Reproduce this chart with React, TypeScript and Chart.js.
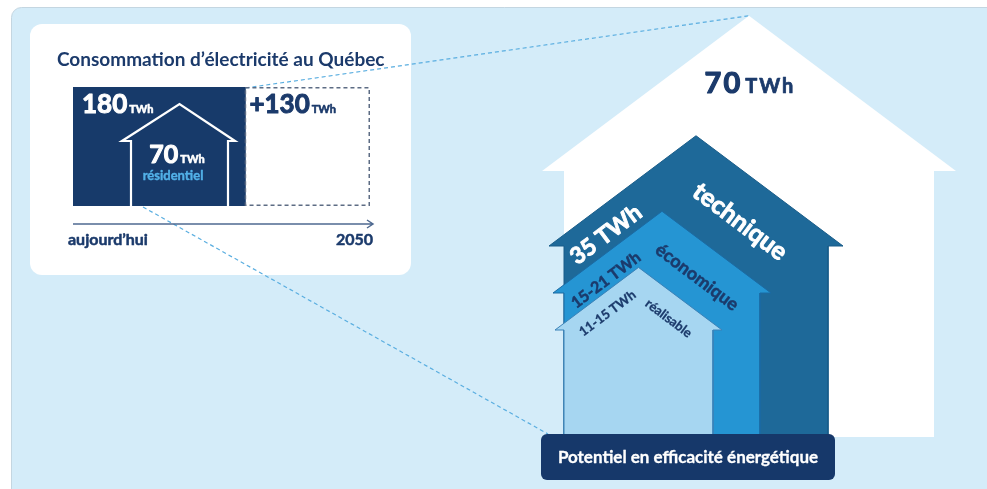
import React, { useEffect, useRef } from 'react';
import { Chart, registerables } from 'chart.js';

Chart.register(...registerables);

// ---------------- data ----------------
const consoTitle = 'Consommation d’électricité au Québec';
const consoCategories = ['aujourd’hui', '2050'];
const consoValues = [180, 130];
const consoValueLabels = ['180', '+130'];
const residentialValue = 70;
const residentialLabel = 'résidentiel';
const unitLabel = 'TWh';

const potentialTitle = 'Potentiel en efficacité énergétique';
const potentialNames = ['réalisable', 'économique', 'technique', 'total'];
const potentialValueLabels = ['11-15', '15-21', '35', '70'];
const potentialLow = [11, 15, 35, 70];
const potentialHigh = [15, 21, 35, 70];

// ---------------- layout / style ----------------
const W = 987;
const H = 489;
const CARD = { x: 30, y: 24, w: 381, h: 251, r: 12 };
const NAVY = '#1b3a6b';
const HOUSE_LEFT = 564;
const HOUSE_BASE = 437;
const ROOF_SLOPE = 0.75;
const houseRight = [713, 760, 828, 934];
const houseEave = [330, 293, 246, 171];
const houseOverhang = [9, 11, 15, 22];
const houseFill = ['#a6d6f1', '#2595d3', '#1e6999', '#ffffff'];
const houseStroke = ['#3b82b8', '#1b6aa3', '#185c89', 'rgba(0,0,0,0)'];
const houseStrokeWidth = [1, 1, 1, 0];
const valueOffset = [[-31, 46], [-56, 69], [-90, 99], [1, 77]];
const nameOffset = [[30, 51], [35, 66], [44, 86]];
const valueFont = ['700 13px Lato', '700 16px Lato', '700 23px Lato'];
const nameFont = ['700 13px Lato', '700 18px Lato', '700 25px Lato'];
const labelStroke = [0.3, 0.5, 0.9];
const labelColor = [NAVY, NAVY, '#ffffff'];

function roundRect(ctx: CanvasRenderingContext2D, x: number, y: number, w: number, h: number, r: number) {
  ctx.beginPath();
  ctx.moveTo(x + r, y);
  ctx.lineTo(x + w - r, y);
  ctx.arcTo(x + w, y, x + w, y + r, r);
  ctx.lineTo(x + w, y + h - r);
  ctx.arcTo(x + w, y + h, x + w - r, y + h, r);
  ctx.lineTo(x + r, y + h);
  ctx.arcTo(x, y + h, x, y + h - r, r);
  ctx.lineTo(x, y + r);
  ctx.arcTo(x, y, x + r, y, r);
  ctx.closePath();
}

function houseGeom(i: number) {
  const half = (houseRight[i] - HOUSE_LEFT) / 2;
  const mid = HOUSE_LEFT + half;
  const apexY = houseEave[i] - ROOF_SLOPE * (half + houseOverhang[i]);
  return { mid, apexY };
}

function housePoints(i: number) {
  const { mid, apexY } = houseGeom(i);
  const L = HOUSE_LEFT, R = houseRight[i], E = houseEave[i], O = houseOverhang[i];
  return [
    { x: L, y: HOUSE_BASE },
    { x: L, y: E },
    { x: L - O, y: E },
    { x: mid, y: apexY },
    { x: R + O, y: E },
    { x: R, y: E },
    { x: R, y: HOUSE_BASE },
    { x: L, y: HOUSE_BASE },
  ];
}

function heavyText(ctx: CanvasRenderingContext2D, text: string, x: number, y: number, stroke: number) {
  if (stroke > 0) {
    ctx.lineWidth = stroke;
    ctx.lineJoin = 'round';
    ctx.strokeStyle = ctx.fillStyle as string;
    ctx.strokeText(text, x, y);
  }
  ctx.fillText(text, x, y);
}

function rotText(ctx: CanvasRenderingContext2D, text: string, x: number, y: number, angle: number, font: string, color: string, stroke: number) {
  ctx.save();
  ctx.translate(x, y);
  ctx.rotate(angle);
  ctx.font = font;
  ctx.fillStyle = color;
  ctx.textAlign = 'center';
  ctx.textBaseline = 'middle';
  heavyText(ctx, text, 0, 0, stroke);
  ctx.restore();
}

function valueWithUnit(ctx: CanvasRenderingContext2D, num: string, x: number, y: number, numFont: string, unitFont: string, color: string, align: 'left' | 'center', gap: number, stroke: number, numSpacing = 0, unitSpacing = 0) {
  ctx.save();
  ctx.fillStyle = color;
  ctx.textAlign = 'left';
  ctx.textBaseline = 'alphabetic';
  ctx.font = numFont;
  (ctx as any).letterSpacing = numSpacing + 'px';
  const w1 = ctx.measureText(num).width;
  ctx.font = unitFont;
  (ctx as any).letterSpacing = unitSpacing + 'px';
  const w2 = ctx.measureText(unitLabel).width;
  const total = w1 + gap + w2;
  const sx = align === 'center' ? x - total / 2 : x;
  ctx.font = numFont;
  (ctx as any).letterSpacing = numSpacing + 'px';
  heavyText(ctx, num, sx, y, stroke);
  ctx.font = unitFont;
  (ctx as any).letterSpacing = unitSpacing + 'px';
  heavyText(ctx, unitLabel, sx + w1 + gap, y, stroke * 0.6);
  ctx.restore();
}

export default function App() {
  const bigRef = useRef<HTMLCanvasElement>(null);
  const cardRef = useRef<HTMLCanvasElement>(null);

  useEffect(() => {
    const shared: any = {};

    const cardDecor = {
      id: 'cardDecor',
      afterDatasetsDraw(chart: any) {
        const ctx: CanvasRenderingContext2D = chart.ctx;
        const b0 = chart.getDatasetMeta(0).data[0];
        const b1 = chart.getDatasetMeta(1).data[0];
        const top = b0.y - b0.height / 2;
        const bot = b0.y + b0.height / 2;
        const l0 = b0.base, l1 = b1.base, r1 = b1.x;

        // dashed box for future growth
        ctx.save();
        ctx.setLineDash([4, 3]);
        ctx.strokeStyle = '#5d6c84';
        ctx.lineWidth = 1.5;
        ctx.strokeRect(l1, top + 0.75, r1 - l1 - 0.75, bot - top - 1.5);
        ctx.restore();

        // residential house outline
        const wl = l0 + 58, wr = l0 + 155;
        const el = l0 + 49, er = l0 + 162;
        const ey = top + 54;
        const ax = (wl + wr) / 2, ay = top + 17;
        ctx.save();
        ctx.strokeStyle = '#ffffff';
        ctx.lineWidth = 2.2;
        ctx.lineJoin = 'miter';
        ctx.beginPath();
        ctx.moveTo(wl, bot);
        ctx.lineTo(wl, ey);
        ctx.lineTo(el, ey);
        ctx.lineTo(ax, ay);
        ctx.lineTo(er, ey);
        ctx.lineTo(wr, ey);
        ctx.lineTo(wr, bot);
        ctx.stroke();
        ctx.restore();

        // values
        valueWithUnit(ctx, consoValueLabels[0], l0 + 9, top + 26, '700 26px Lato', '700 11px Lato', '#ffffff', 'left', 2, 1);
        valueWithUnit(ctx, consoValueLabels[1], l1 + 4, top + 26, '700 26px Lato', '700 11px Lato', NAVY, 'left', 2, 1);
        valueWithUnit(ctx, String(residentialValue), l0 + 104, top + 76, '700 25px Lato', '700 11px Lato', '#ffffff', 'center', 2, 1);
        ctx.save();
        ctx.font = '700 13px Lato';
        ctx.fillStyle = '#52b1e8';
        ctx.textAlign = 'center';
        heavyText(ctx, residentialLabel, l0 + 100, top + 93, 0.4);
        ctx.restore();

        // title
        ctx.save();
        ctx.font = '700 19px Lato';
        ctx.fillStyle = NAVY;
        ctx.textAlign = 'left';
        ctx.fillText(consoTitle, l0 - 16, top - 21);
        ctx.restore();

        // time arrow
        const ay2 = bot + 18;
        const xEnd = r1 + 3;
        ctx.save();
        ctx.strokeStyle = '#4f6a91';
        ctx.lineWidth = 1.5;
        ctx.beginPath();
        ctx.moveTo(l0, ay2);
        ctx.lineTo(xEnd, ay2);
        ctx.moveTo(xEnd - 6, ay2 - 4);
        ctx.lineTo(xEnd, ay2);
        ctx.lineTo(xEnd - 6, ay2 + 4);
        ctx.stroke();
        ctx.font = '700 16px Lato';
        ctx.fillStyle = NAVY;
        ctx.textAlign = 'left';
        heavyText(ctx, consoCategories[0], l0 - 5, bot + 39, 0.5);
        ctx.textAlign = 'right';
        heavyText(ctx, consoCategories[1], xEnd, bot + 39, 0.5);
        ctx.restore();
      },
    };

    const card = new Chart(cardRef.current as HTMLCanvasElement, {
      type: 'bar',
      data: {
        labels: ['conso'],
        datasets: consoCategories.map((c, i) => ({
          label: c,
          data: [consoValues[i]],
          backgroundColor: i === 0 ? '#173a6a' : 'rgba(255,255,255,0)',
          borderWidth: 0,
          barPercentage: 1,
          categoryPercentage: 1,
        })),
      },
      options: {
        indexAxis: 'y',
        responsive: false,
        animation: false,
        events: [],
        layout: { padding: { left: 43, right: 41, top: 63, bottom: 69 } },
        scales: {
          x: { stacked: true, min: 0, max: consoValues[0] + consoValues[1], display: false },
          y: { stacked: true, display: false },
        },
        plugins: { legend: { display: false }, tooltip: { enabled: false } },
      },
      plugins: [cardDecor],
    } as any);

    const m0: any = card.getDatasetMeta(0).data[0];
    const m1: any = card.getDatasetMeta(1).data[0];
    shared.upperStart = { x: CARD.x + m1.base, y: CARD.y + m1.y - m1.height / 2 + 1 };
    shared.lowerStart = { x: CARD.x + m0.base + 70, y: CARD.y + m0.y + m0.height / 2 + 1 };

    const scene = {
      id: 'scene',
      beforeDraw(chart: any) {
        const ctx: CanvasRenderingContext2D = chart.ctx;
        ctx.save();
        ctx.fillStyle = '#ffffff';
        ctx.fillRect(0, 0, W, H);
        roundRect(ctx, 11.5, 7.5, W + 30, H + 30, 10);
        ctx.fillStyle = '#d4ecf9';
        ctx.fill();
        ctx.strokeStyle = '#c4d6e1';
        ctx.lineWidth = 1;
        ctx.stroke();
        roundRect(ctx, CARD.x, CARD.y, CARD.w, CARD.h, CARD.r);
        ctx.fillStyle = '#ffffff';
        ctx.fill();
        ctx.restore();
      },
      beforeDatasetsDraw(chart: any) {
        const ctx: CanvasRenderingContext2D = chart.ctx;
        const xs = chart.scales.x, ys = chart.scales.y;
        const g = houseGeom(3);
        const apex = { x: xs.getPixelForValue(g.mid), y: ys.getPixelForValue(g.apexY) };
        const boxCorner = { x: xs.getPixelForValue(HOUSE_LEFT) - 16, y: ys.getPixelForValue(HOUSE_BASE) - 3 };
        ctx.save();
        ctx.setLineDash([4, 3]);
        ctx.strokeStyle = '#5aaee0';
        ctx.lineWidth = 1.2;
        ctx.beginPath();
        ctx.moveTo(shared.upperStart.x, shared.upperStart.y);
        ctx.lineTo(apex.x, apex.y);
        ctx.moveTo(shared.lowerStart.x, shared.lowerStart.y);
        ctx.lineTo(boxCorner.x, boxCorner.y);
        ctx.stroke();
        ctx.restore();
      },
      beforeDatasetDraw(chart: any, args: any) {
        const ctx: CanvasRenderingContext2D = chart.ctx;
        const pts = args.meta.data;
        if (!pts.length) return;
        ctx.save();
        ctx.beginPath();
        pts.forEach((p: any, k: number) => (k ? ctx.lineTo(p.x, p.y) : ctx.moveTo(p.x, p.y)));
        ctx.closePath();
        ctx.fillStyle = houseFill[args.index];
        ctx.fill();
        ctx.restore();
      },
      afterDatasetsDraw(chart: any) {
        const ctx: CanvasRenderingContext2D = chart.ctx;
        const xs = chart.scales.x, ys = chart.scales.y;
        for (let i = 0; i < potentialNames.length; i++) {
          const g = houseGeom(i);
          const ax = xs.getPixelForValue(g.mid), ay = ys.getPixelForValue(g.apexY);
          const ex = xs.getPixelForValue(HOUSE_LEFT - houseOverhang[i]);
          const ey = ys.getPixelForValue(houseEave[i]);
          const ang = Math.atan2(ey - ay, ax - ex);
          if (i === 3) {
            valueWithUnit(ctx, potentialValueLabels[i], ax + valueOffset[i][0], ay + valueOffset[i][1], '700 29px Lato', '700 20px Lato', NAVY, 'center', 3, 1.2, 2, 2);
          } else {
            rotText(ctx, potentialValueLabels[i] + ' ' + unitLabel, ax + valueOffset[i][0], ay + valueOffset[i][1], -ang, valueFont[i], labelColor[i], labelStroke[i]);
            rotText(ctx, potentialNames[i], ax + nameOffset[i][0], ay + nameOffset[i][1], ang, nameFont[i], labelColor[i], labelStroke[i]);
          }
        }
        // title box
        const bx = xs.getPixelForValue(HOUSE_LEFT) - 23;
        const bx2 = xs.getPixelForValue(houseRight[2]) + 7;
        const by = ys.getPixelForValue(HOUSE_BASE) - 3;
        ctx.save();
        roundRect(ctx, bx, by, bx2 - bx, 46, 6);
        ctx.fillStyle = '#16386a';
        ctx.fill();
        ctx.font = '700 17px Lato';
        ctx.fillStyle = '#ffffff';
        ctx.textAlign = 'center';
        ctx.textBaseline = 'middle';
        heavyText(ctx, potentialTitle, (bx + bx2) / 2, by + 24, 0.3);
        ctx.restore();
      },
    };

    const big = new Chart(bigRef.current as HTMLCanvasElement, {
      type: 'scatter',
      data: {
        datasets: potentialNames.map((name, i) => ({
          label: name,
          data: housePoints(i),
          showLine: true,
          fill: false,
          tension: 0,
          pointRadius: 0,
          pointHoverRadius: 0,
          borderColor: houseStroke[i],
          borderWidth: houseStrokeWidth[i],
          backgroundColor: houseFill[i],
        })),
      },
      options: {
        responsive: false,
        animation: false,
        events: [],
        layout: { padding: 0 },
        scales: {
          x: { type: 'linear', min: 0, max: W, display: false },
          y: { type: 'linear', min: 0, max: H, reverse: true, display: false },
        },
        plugins: { legend: { display: false }, tooltip: { enabled: false } },
      },
      plugins: [scene],
    } as any);

    return () => {
      big.destroy();
      card.destroy();
    };
  }, []);

  return (
    <div style={{ position: 'fixed', left: 0, top: 0, width: W, height: H, overflow: 'hidden', background: '#ffffff' }}>
      <canvas ref={bigRef} width={W} height={H} style={{ position: 'absolute', left: 0, top: 0, zIndex: 0 }} />
      <canvas ref={cardRef} width={CARD.w} height={CARD.h} style={{ position: 'absolute', left: CARD.x, top: CARD.y, zIndex: 1 }} />
    </div>
  );
}
